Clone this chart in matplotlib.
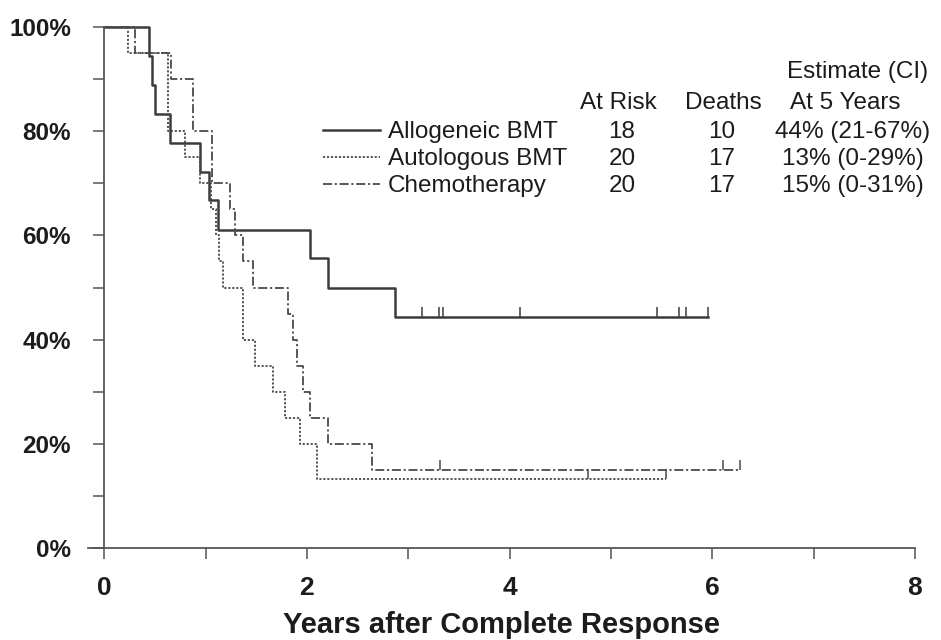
import numpy as np
import matplotlib
matplotlib.use("Agg")
import matplotlib.pyplot as plt
from matplotlib.lines import Line2D

# Kaplan-Meier step data (time in years, survival in %)
allo_t = [0, 0.44, 0.47, 0.50, 0.65, 0.95, 1.03, 1.12, 2.03, 2.21, 2.87, 5.96]
allo_s = [100, 94.4, 88.9, 83.3, 77.8, 72.2, 66.7, 61.1, 55.6, 50.0, 44.4, 44.4]
allo_cens = [3.14, 3.30, 3.34, 4.10, 5.45, 5.67, 5.74, 5.96]

auto_t = [0, 0.23, 0.63, 0.80, 0.95, 1.05, 1.10, 1.13, 1.17, 1.37, 1.49, 1.67, 1.78, 1.93, 2.10, 5.54]
auto_s = [100, 95, 80, 75, 70, 65, 60, 55, 50, 40, 35, 30, 25, 20, 13.3, 13.3]
auto_cens = [4.77, 5.54]

chemo_t = [0, 0.30, 0.66, 0.88, 1.06, 1.24, 1.29, 1.37, 1.47, 1.81, 1.86, 1.90, 1.96, 2.03, 2.21, 2.64, 6.27]
chemo_s = [100, 95, 90, 80, 70, 65, 60, 55, 50, 45, 40, 35, 30, 25, 20, 15, 15]
chemo_cens = [3.31, 6.11, 6.27]

groups = ["Allogeneic BMT", "Autologous BMT", "Chemotherapy"]
at_risk = ["18", "20", "20"]
deaths = ["10", "17", "17"]
estimates = ["44% (21-67%)", "13% (0-29%)", "15% (0-31%)"]

ink = "#1c1c1c"
line_col = "#4a4a4a"
styles = [
    dict(linestyle="-", linewidth=1.8, color="#3c3c3c"),
    dict(linestyle=(0, (1.2, 1.0)), linewidth=1.3, color=line_col),
    dict(linestyle=(0, (5, 1.5, 1.2, 1.5)), linewidth=1.3, color=line_col),
]

bold_fam = ["Liberation Sans Narrow", "Liberation Sans", "DejaVu Sans"]
regular = dict(family=["Liberation Sans", "DejaVu Sans"], color=ink)

fig = plt.figure(figsize=(9.41, 6.40), dpi=100)
W, H = 941, 640
L, R, T, B = 88, 915, 27, 548
ax = fig.add_axes([L / W, 1 - B / H, (R - L) / W, (B - T) / H])


def px(x, y):
    # pixel position in the figure -> axes fraction
    return (x - L) / (R - L), (B - y) / (B - T)


series = [(allo_t, allo_s, allo_cens), (auto_t, auto_s, auto_cens), (chemo_t, chemo_s, chemo_cens)]
for (t, s, cens), st in zip(series, styles):
    ax.step(t, s, where="post", clip_on=False, **st)
    # censoring marks: short ticks above the curve
    lvl = [s[np.searchsorted(t, c, side="right") - 1] for c in cens]
    ax.vlines(cens, lvl, np.array(lvl) + 1.8, color=st["color"], linewidth=1.1)

ax.set_xlim(-0.16, 8)
ax.set_ylim(0, 100)
ax.spines["left"].set_position(("data", 0))
ax.spines["top"].set_visible(False)
ax.spines["right"].set_visible(False)
for sp in ("left", "bottom"):
    ax.spines[sp].set_color("#555555")
    ax.spines[sp].set_linewidth(1.3)

ax.set_xticks([0, 2, 4, 6, 8])
ax.set_xticks([1, 3, 5, 7], minor=True)
ax.set_yticks([0, 20, 40, 60, 80, 100])
ax.set_yticks([10, 30, 50, 70, 90], minor=True)
ax.set_yticklabels([f"{v}%" for v in [0, 20, 40, 60, 80, 100]])
ax.tick_params(which="both", direction="out", length=8, width=1.1, color="#555555")
ax.tick_params(axis="y", which="major", pad=16)
ax.tick_params(axis="x", which="major", pad=12)
for lab in ax.get_xticklabels():
    lab.set_fontsize(19)
for lab in ax.get_yticklabels():
    lab.set_fontsize(17.5)
for lab in ax.get_xticklabels() + ax.get_yticklabels():
    lab.set_fontfamily(bold_fam)
    lab.set_fontweight("bold")
    lab.set_color(ink)

ax.set_xlabel("Years after Complete Response", fontsize=21, labelpad=8,
              family=bold_fam, weight="bold", color=ink)

# table-style legend
fs = 17.5
ax.text(*px(858, 78), "Estimate (CI)", ha="center", va="baseline", fontsize=fs, transform=ax.transAxes, **regular)
ax.text(*px(618, 109), "At Risk", ha="center", va="baseline", fontsize=fs, transform=ax.transAxes, **regular)
ax.text(*px(723, 109), "Deaths", ha="center", va="baseline", fontsize=fs, transform=ax.transAxes, **regular)
ax.text(*px(845, 109), "At 5 Years", ha="center", va="baseline", fontsize=fs, transform=ax.transAxes, **regular)
for i, g in enumerate(groups):
    yb = 138 + 27 * i
    x0, y0 = px(323, yb - 8)
    x1, _ = px(380, yb - 8)
    ax.add_line(Line2D([x0, x1], [y0, y0], transform=ax.transAxes, clip_on=False, **styles[i]))
    ax.text(*px(388, yb), g, ha="left", va="baseline", fontsize=fs, transform=ax.transAxes, **regular)
    ax.text(*px(622, yb), at_risk[i], ha="center", va="baseline", fontsize=fs, transform=ax.transAxes, **regular)
    ax.text(*px(722, yb), deaths[i], ha="center", va="baseline", fontsize=fs, transform=ax.transAxes, **regular)
    ax.text(*px(853, yb), estimates[i], ha="center", va="baseline", fontsize=fs, transform=ax.transAxes, **regular)

fig.savefig("out.png", dpi=100)
